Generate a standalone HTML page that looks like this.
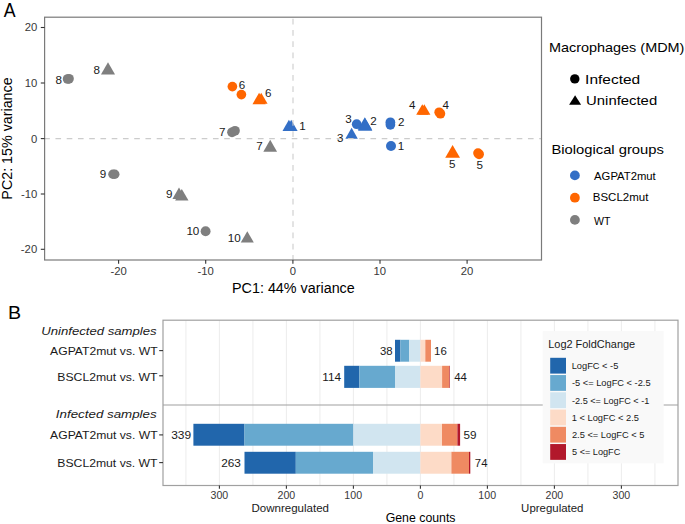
<!DOCTYPE html>
<html><head><meta charset="utf-8"><style>
html,body{margin:0;padding:0;background:#fff;}
svg{display:block;}
text{font-family:"Liberation Sans",sans-serif;}
</style></head><body>
<svg width="685" height="524" viewBox="0 0 685 524">
<rect x="0" y="0" width="685" height="524" fill="#fff"/>
<circle cx="67.6" cy="79" r="4.85" fill="#7f7f7f"/>
<circle cx="69.0" cy="78.8" r="4.85" fill="#7f7f7f"/>
<polygon points="108.00,62.25 100.96,74.45 115.04,74.45" fill="#7f7f7f"/>
<circle cx="232.0" cy="132.3" r="4.85" fill="#7f7f7f"/>
<circle cx="235.0" cy="130.8" r="4.85" fill="#7f7f7f"/>
<polygon points="270.20,139.85 263.33,151.75 277.07,151.75" fill="#7f7f7f"/>
<circle cx="112.9" cy="174.3" r="4.7" fill="#7f7f7f"/>
<circle cx="114.8" cy="174.3" r="4.7" fill="#7f7f7f"/>
<polygon points="179.00,187.55 172.42,198.95 185.58,198.95" fill="#7f7f7f"/>
<polygon points="181.80,188.95 175.10,200.55 188.50,200.55" fill="#7f7f7f"/>
<circle cx="205.6" cy="231.3" r="4.95" fill="#7f7f7f"/>
<polygon points="247.30,231.25 240.78,242.55 253.82,242.55" fill="#7f7f7f"/>
<circle cx="232.4" cy="86.6" r="4.85" fill="#ff6600"/>
<circle cx="241.4" cy="94.6" r="4.85" fill="#ff6600"/>
<polygon points="259.10,92.65 252.46,104.15 265.74,104.15" fill="#ff6600"/>
<polygon points="261.20,92.85 254.85,103.85 267.55,103.85" fill="#ff6600"/>
<polygon points="422.30,104.15 416.18,114.75 428.42,114.75" fill="#ff6600"/>
<polygon points="424.30,104.15 418.18,114.75 430.42,114.75" fill="#ff6600"/>
<circle cx="439.2" cy="112.3" r="4.85" fill="#ff6600"/>
<circle cx="440.4" cy="113.7" r="4.85" fill="#ff6600"/>
<polygon points="452.60,144.95 445.21,157.75 459.99,157.75" fill="#ff6600"/>
<circle cx="478.0" cy="153.1" r="4.85" fill="#ff6600"/>
<circle cx="479.1" cy="154.3" r="4.85" fill="#ff6600"/>
<polygon points="288.90,119.85 282.49,130.95 295.31,130.95" fill="#336fc6"/>
<polygon points="291.20,119.85 284.79,130.95 297.61,130.95" fill="#336fc6"/>
<circle cx="356.7" cy="124.2" r="4.85" fill="#336fc6"/>
<polygon points="364.80,117.25 357.58,129.75 372.02,129.75" fill="#336fc6"/>
<polygon points="365.20,118.25 358.04,130.65 372.36,130.65" fill="#336fc6"/>
<polygon points="351.60,127.85 345.36,138.65 357.84,138.65" fill="#336fc6"/>
<circle cx="390.4" cy="122.3" r="4.85" fill="#336fc6"/>
<circle cx="390.4" cy="124.8" r="4.85" fill="#336fc6"/>
<circle cx="391.0" cy="146.0" r="5.0" fill="#336fc6"/>
<line x1="44.6" y1="138.6" x2="541.5" y2="138.6" stroke="#cccccc" stroke-width="1.1" stroke-dasharray="5.625 5.625" stroke-dashoffset="0.4"/>
<line x1="293.0" y1="260.0" x2="293.0" y2="17.2" stroke="#cccccc" stroke-width="1.1" stroke-dasharray="5.625 5.625" stroke-dashoffset="0.65"/>
<text x="55.44" y="83.96" font-size="10.60" textLength="6.48" lengthAdjust="spacingAndGlyphs" fill="#1a1a1a" >8</text>
<text x="93.54" y="73.66" font-size="10.60" textLength="6.48" lengthAdjust="spacingAndGlyphs" fill="#1a1a1a" >8</text>
<text x="218.91" y="136.11" font-size="10.60" textLength="6.48" lengthAdjust="spacingAndGlyphs" fill="#1a1a1a" >7</text>
<text x="256.16" y="149.96" font-size="10.60" textLength="6.48" lengthAdjust="spacingAndGlyphs" fill="#1a1a1a" >7</text>
<text x="99.71" y="178.16" font-size="10.60" textLength="6.48" lengthAdjust="spacingAndGlyphs" fill="#1a1a1a" >9</text>
<text x="165.91" y="198.06" font-size="10.60" textLength="6.48" lengthAdjust="spacingAndGlyphs" fill="#1a1a1a" >9</text>
<text x="186.40" y="235.31" font-size="10.60" textLength="12.97" lengthAdjust="spacingAndGlyphs" fill="#1a1a1a" >10</text>
<text x="227.85" y="241.76" font-size="10.60" textLength="12.97" lengthAdjust="spacingAndGlyphs" fill="#1a1a1a" >10</text>
<text x="238.76" y="88.56" font-size="10.60" textLength="6.48" lengthAdjust="spacingAndGlyphs" fill="#1a1a1a" >6</text>
<text x="265.06" y="96.91" font-size="10.60" textLength="6.48" lengthAdjust="spacingAndGlyphs" fill="#1a1a1a" >6</text>
<text x="299.34" y="129.76" font-size="10.60" textLength="6.48" lengthAdjust="spacingAndGlyphs" fill="#1a1a1a" >1</text>
<text x="345.36" y="122.71" font-size="10.60" textLength="6.48" lengthAdjust="spacingAndGlyphs" fill="#1a1a1a" >3</text>
<text x="370.36" y="124.56" font-size="10.60" textLength="6.48" lengthAdjust="spacingAndGlyphs" fill="#1a1a1a" >2</text>
<text x="337.11" y="142.16" font-size="10.60" textLength="6.48" lengthAdjust="spacingAndGlyphs" fill="#1a1a1a" >3</text>
<text x="398.01" y="126.16" font-size="10.60" textLength="6.48" lengthAdjust="spacingAndGlyphs" fill="#1a1a1a" >2</text>
<text x="397.69" y="149.71" font-size="10.60" textLength="6.48" lengthAdjust="spacingAndGlyphs" fill="#1a1a1a" >1</text>
<text x="408.97" y="108.91" font-size="10.60" textLength="6.48" lengthAdjust="spacingAndGlyphs" fill="#1a1a1a" >4</text>
<text x="442.57" y="108.91" font-size="10.60" textLength="6.48" lengthAdjust="spacingAndGlyphs" fill="#1a1a1a" >4</text>
<text x="449.06" y="168.31" font-size="10.60" textLength="6.48" lengthAdjust="spacingAndGlyphs" fill="#1a1a1a" >5</text>
<text x="476.46" y="168.86" font-size="10.60" textLength="6.48" lengthAdjust="spacingAndGlyphs" fill="#1a1a1a" >5</text>
<rect x="44.6" y="17.2" width="496.9" height="242.8" fill="none" stroke="#7a7a7a" stroke-width="1.2"/>
<line x1="40.8" y1="27.5" x2="44.6" y2="27.5" stroke="#333333" stroke-width="1.1"/>
<line x1="40.8" y1="83.0" x2="44.6" y2="83.0" stroke="#333333" stroke-width="1.1"/>
<line x1="40.8" y1="138.6" x2="44.6" y2="138.6" stroke="#333333" stroke-width="1.1"/>
<line x1="40.8" y1="194.0" x2="44.6" y2="194.0" stroke="#333333" stroke-width="1.1"/>
<line x1="40.8" y1="249.3" x2="44.6" y2="249.3" stroke="#333333" stroke-width="1.1"/>
<line x1="118.6" y1="260.0" x2="118.6" y2="263.8" stroke="#333333" stroke-width="1.1"/>
<line x1="205.7" y1="260.0" x2="205.7" y2="263.8" stroke="#333333" stroke-width="1.1"/>
<line x1="292.9" y1="260.0" x2="292.9" y2="263.8" stroke="#333333" stroke-width="1.1"/>
<line x1="380.0" y1="260.0" x2="380.0" y2="263.8" stroke="#333333" stroke-width="1.1"/>
<line x1="467.1" y1="260.0" x2="467.1" y2="263.8" stroke="#333333" stroke-width="1.1"/>
<text x="24.65" y="31.30" font-size="11.30" textLength="12.57" lengthAdjust="spacingAndGlyphs" fill="#383838" >20</text>
<text x="24.75" y="87.00" font-size="11.30" textLength="12.57" lengthAdjust="spacingAndGlyphs" fill="#383838" >10</text>
<text x="31.02" y="142.50" font-size="11.30" textLength="6.28" lengthAdjust="spacingAndGlyphs" fill="#383838" >0</text>
<text x="20.97" y="197.90" font-size="11.30" textLength="16.33" lengthAdjust="spacingAndGlyphs" fill="#383838" >-10</text>
<text x="20.87" y="253.40" font-size="11.30" textLength="16.33" lengthAdjust="spacingAndGlyphs" fill="#383838" >-20</text>
<text x="110.38" y="275.10" font-size="11.30" textLength="16.33" lengthAdjust="spacingAndGlyphs" fill="#383838" >-20</text>
<text x="197.48" y="275.10" font-size="11.30" textLength="16.33" lengthAdjust="spacingAndGlyphs" fill="#383838" >-10</text>
<text x="289.74" y="275.10" font-size="11.30" textLength="6.28" lengthAdjust="spacingAndGlyphs" fill="#383838" >0</text>
<text x="373.50" y="275.10" font-size="11.30" textLength="12.57" lengthAdjust="spacingAndGlyphs" fill="#383838" >10</text>
<text x="460.74" y="275.10" font-size="11.30" textLength="12.57" lengthAdjust="spacingAndGlyphs" fill="#383838" >20</text>
<text x="232.05" y="293.30" font-size="14.64" textLength="122.70" lengthAdjust="spacingAndGlyphs" fill="#000" style="" >PC1: 44% variance</text>
<g transform="translate(12.20,198.70) rotate(-90)"><text x="-0.94" y="-0.10" font-size="15.36" textLength="122.29" lengthAdjust="spacingAndGlyphs" fill="#000" style="" >PC2: 15% variance</text></g>
<text x="3.80" y="16.90" font-size="19.57" textLength="11.84" lengthAdjust="spacingAndGlyphs" fill="#000" style="" >A</text>
<text x="548.95" y="51.80" font-size="12.90" textLength="135.44" lengthAdjust="spacingAndGlyphs" fill="#000" style="" >Macrophages (MDM)</text>
<circle cx="574.8" cy="78.9" r="4.7" fill="#000"/>
<text x="585.11" y="83.70" font-size="13.33" textLength="55.05" lengthAdjust="spacingAndGlyphs" fill="#000" style="" >Infected</text>
<polygon points="575.1,95.2 569.1,104.7 581.1,104.7" fill="#000"/>
<text x="586.08" y="104.50" font-size="13.48" textLength="71.09" lengthAdjust="spacingAndGlyphs" fill="#000" style="" >Uninfected</text>
<text x="551.42" y="153.70" font-size="13.04" textLength="112.51" lengthAdjust="spacingAndGlyphs" fill="#000" style="" >Biological groups</text>
<circle cx="574.9" cy="175.4" r="4.9" fill="#336fc6"/>
<circle cx="574.9" cy="197.7" r="4.9" fill="#ff6600"/>
<circle cx="574.9" cy="219.9" r="4.9" fill="#7f7f7f"/>
<text x="594.10" y="179.50" font-size="11.16" textLength="61.61" lengthAdjust="spacingAndGlyphs" fill="#000" style="" >AGPAT2mut</text>
<text x="592.78" y="201.40" font-size="11.16" textLength="55.58" lengthAdjust="spacingAndGlyphs" fill="#000" style="" >BSCL2mut</text>
<text x="594.05" y="224.50" font-size="11.45" textLength="16.46" lengthAdjust="spacingAndGlyphs" fill="#000" style="" >WT</text>
<line x1="185.90" y1="320.2" x2="185.90" y2="485.5" stroke="#eeeeee" stroke-width="1.1"/>
<line x1="219.40" y1="320.2" x2="219.40" y2="485.5" stroke="#eeeeee" stroke-width="1.1"/>
<line x1="252.90" y1="320.2" x2="252.90" y2="485.5" stroke="#eeeeee" stroke-width="1.1"/>
<line x1="286.40" y1="320.2" x2="286.40" y2="485.5" stroke="#eeeeee" stroke-width="1.1"/>
<line x1="319.90" y1="320.2" x2="319.90" y2="485.5" stroke="#eeeeee" stroke-width="1.1"/>
<line x1="353.40" y1="320.2" x2="353.40" y2="485.5" stroke="#eeeeee" stroke-width="1.1"/>
<line x1="386.90" y1="320.2" x2="386.90" y2="485.5" stroke="#eeeeee" stroke-width="1.1"/>
<line x1="420.40" y1="320.2" x2="420.40" y2="485.5" stroke="#eeeeee" stroke-width="1.1"/>
<line x1="453.90" y1="320.2" x2="453.90" y2="485.5" stroke="#eeeeee" stroke-width="1.1"/>
<line x1="487.40" y1="320.2" x2="487.40" y2="485.5" stroke="#eeeeee" stroke-width="1.1"/>
<line x1="520.90" y1="320.2" x2="520.90" y2="485.5" stroke="#eeeeee" stroke-width="1.1"/>
<line x1="554.40" y1="320.2" x2="554.40" y2="485.5" stroke="#eeeeee" stroke-width="1.1"/>
<line x1="587.90" y1="320.2" x2="587.90" y2="485.5" stroke="#eeeeee" stroke-width="1.1"/>
<line x1="621.40" y1="320.2" x2="621.40" y2="485.5" stroke="#eeeeee" stroke-width="1.1"/>
<line x1="654.90" y1="320.2" x2="654.90" y2="485.5" stroke="#eeeeee" stroke-width="1.1"/>
<rect x="395.00" y="339.8" width="5.40" height="21.90" fill="#2166ac"/>
<rect x="400.40" y="339.8" width="8.90" height="21.90" fill="#67a9cf"/>
<rect x="409.30" y="339.8" width="11.10" height="21.90" fill="#d1e5f0"/>
<rect x="420.40" y="339.8" width="4.90" height="21.90" fill="#fddbc7"/>
<rect x="425.30" y="339.8" width="5.70" height="21.90" fill="#ef8a62"/>
<rect x="344.20" y="365.8" width="15.20" height="22.10" fill="#2166ac"/>
<rect x="359.40" y="365.8" width="35.60" height="22.10" fill="#67a9cf"/>
<rect x="395.00" y="365.8" width="25.40" height="22.10" fill="#d1e5f0"/>
<rect x="420.40" y="365.8" width="21.70" height="22.10" fill="#fddbc7"/>
<rect x="442.10" y="365.8" width="7.20" height="22.10" fill="#ef8a62"/>
<rect x="449.30" y="365.8" width="0.60" height="22.10" fill="#b2182b"/>
<rect x="193.40" y="423.8" width="51.10" height="21.90" fill="#2166ac"/>
<rect x="244.50" y="423.8" width="108.90" height="21.90" fill="#67a9cf"/>
<rect x="353.40" y="423.8" width="67.00" height="21.90" fill="#d1e5f0"/>
<rect x="420.40" y="423.8" width="21.60" height="21.90" fill="#fddbc7"/>
<rect x="442.00" y="423.8" width="15.40" height="21.90" fill="#ef8a62"/>
<rect x="457.40" y="423.8" width="2.70" height="21.90" fill="#b2182b"/>
<rect x="244.50" y="451.8" width="51.30" height="21.90" fill="#2166ac"/>
<rect x="295.80" y="451.8" width="77.20" height="21.90" fill="#67a9cf"/>
<rect x="373.00" y="451.8" width="47.40" height="21.90" fill="#d1e5f0"/>
<rect x="420.40" y="451.8" width="31.00" height="21.90" fill="#fddbc7"/>
<rect x="451.40" y="451.8" width="17.60" height="21.90" fill="#ef8a62"/>
<rect x="469.00" y="451.8" width="1.30" height="21.90" fill="#b2182b"/>
<text x="379.95" y="354.50" font-size="10.60" textLength="12.64" lengthAdjust="spacingAndGlyphs" fill="#1a1a1a" style="" >38</text>
<text x="434.04" y="354.50" font-size="10.60" textLength="12.74" lengthAdjust="spacingAndGlyphs" fill="#1a1a1a" style="" >16</text>
<text x="322.21" y="380.80" font-size="10.60" textLength="18.83" lengthAdjust="spacingAndGlyphs" fill="#1a1a1a" style="" >114</text>
<text x="454.27" y="380.80" font-size="10.60" textLength="12.70" lengthAdjust="spacingAndGlyphs" fill="#1a1a1a" style="" >44</text>
<text x="171.22" y="438.70" font-size="10.60" textLength="19.96" lengthAdjust="spacingAndGlyphs" fill="#1a1a1a" style="" >339</text>
<text x="463.53" y="438.70" font-size="10.60" textLength="13.02" lengthAdjust="spacingAndGlyphs" fill="#1a1a1a" style="" >59</text>
<text x="221.21" y="466.80" font-size="10.60" textLength="19.70" lengthAdjust="spacingAndGlyphs" fill="#1a1a1a" style="" >263</text>
<text x="474.83" y="466.80" font-size="10.60" textLength="12.64" lengthAdjust="spacingAndGlyphs" fill="#1a1a1a" style="" >74</text>
<line x1="163" y1="405.0" x2="678.0" y2="405.0" stroke="#a0a0a0" stroke-width="1.2"/>
<rect x="163.0" y="320.2" width="515.0" height="165.3" fill="none" stroke="#a0a0a0" stroke-width="1.2"/>
<line x1="159.2" y1="350.6" x2="163" y2="350.6" stroke="#333" stroke-width="1.1"/>
<line x1="159.2" y1="375.8" x2="163" y2="375.8" stroke="#333" stroke-width="1.1"/>
<line x1="159.2" y1="434.9" x2="163" y2="434.9" stroke="#333" stroke-width="1.1"/>
<line x1="159.2" y1="462.6" x2="163" y2="462.6" stroke="#333" stroke-width="1.1"/>
<text x="41.21" y="334.50" font-size="11.45" textLength="115.48" lengthAdjust="spacingAndGlyphs" fill="#1a1a1a" style="font-style:italic;" >Uninfected samples</text>
<text x="50.10" y="354.60" font-size="11.45" textLength="107.48" lengthAdjust="spacingAndGlyphs" fill="#1a1a1a" style="" >AGPAT2mut vs. WT</text>
<text x="57.33" y="380.70" font-size="11.45" textLength="100.20" lengthAdjust="spacingAndGlyphs" fill="#1a1a1a" style="" >BSCL2mut vs. WT</text>
<text x="55.87" y="417.90" font-size="11.30" textLength="100.80" lengthAdjust="spacingAndGlyphs" fill="#1a1a1a" style="font-style:italic;" >Infected samples</text>
<text x="50.10" y="438.50" font-size="11.01" textLength="107.48" lengthAdjust="spacingAndGlyphs" fill="#1a1a1a" style="" >AGPAT2mut vs. WT</text>
<text x="57.33" y="466.60" font-size="11.45" textLength="100.20" lengthAdjust="spacingAndGlyphs" fill="#1a1a1a" style="" >BSCL2mut vs. WT</text>
<text x="8.13" y="318.90" font-size="18.70" textLength="13.09" lengthAdjust="spacingAndGlyphs" fill="#000" style="" >B</text>
<line x1="219.40" y1="485.5" x2="219.40" y2="488.8" stroke="#333" stroke-width="1.1"/>
<text x="210.55" y="498.56" font-size="10.60" textLength="17.69" lengthAdjust="spacingAndGlyphs" fill="#383838" >300</text>
<line x1="286.40" y1="485.5" x2="286.40" y2="488.8" stroke="#333" stroke-width="1.1"/>
<text x="277.50" y="498.56" font-size="10.60" textLength="17.69" lengthAdjust="spacingAndGlyphs" fill="#383838" >200</text>
<line x1="353.40" y1="485.5" x2="353.40" y2="488.8" stroke="#333" stroke-width="1.1"/>
<text x="344.36" y="498.56" font-size="10.60" textLength="17.69" lengthAdjust="spacingAndGlyphs" fill="#383838" >100</text>
<line x1="420.40" y1="485.5" x2="420.40" y2="488.8" stroke="#333" stroke-width="1.1"/>
<text x="417.43" y="498.56" font-size="10.60" textLength="5.90" lengthAdjust="spacingAndGlyphs" fill="#383838" >0</text>
<line x1="487.40" y1="485.5" x2="487.40" y2="488.8" stroke="#333" stroke-width="1.1"/>
<text x="478.36" y="498.56" font-size="10.60" textLength="17.69" lengthAdjust="spacingAndGlyphs" fill="#383838" >100</text>
<line x1="554.40" y1="485.5" x2="554.40" y2="488.8" stroke="#333" stroke-width="1.1"/>
<text x="545.50" y="498.56" font-size="10.60" textLength="17.69" lengthAdjust="spacingAndGlyphs" fill="#383838" >200</text>
<line x1="621.40" y1="485.5" x2="621.40" y2="488.8" stroke="#333" stroke-width="1.1"/>
<text x="612.55" y="498.56" font-size="10.60" textLength="17.69" lengthAdjust="spacingAndGlyphs" fill="#383838" >300</text>
<text x="251.48" y="511.60" font-size="10.58" textLength="77.49" lengthAdjust="spacingAndGlyphs" fill="#1a1a1a" style="" >Downregulated</text>
<text x="521.14" y="511.70" font-size="10.14" textLength="62.34" lengthAdjust="spacingAndGlyphs" fill="#1a1a1a" style="" >Upregulated</text>
<text x="385.68" y="521.80" font-size="12.17" textLength="69.85" lengthAdjust="spacingAndGlyphs" fill="#000" style="" >Gene counts</text>
<rect x="542.7" y="331.1" width="121" height="132.3" fill="#f9f9f9"/>
<text x="548.22" y="347.90" font-size="10.29" textLength="86.98" lengthAdjust="spacingAndGlyphs" fill="#1a1a1a" style="" >Log2 FoldChange</text>
<rect x="550.2" y="357.80" width="15.8" height="15.8" fill="#2166ac"/>
<text x="571.66" y="369.10" font-size="9.28" textLength="46.72" lengthAdjust="spacingAndGlyphs" fill="#1a1a1a" style="" >LogFC &lt; -5</text>
<rect x="550.2" y="375.05" width="15.8" height="15.8" fill="#67a9cf"/>
<text x="571.98" y="386.30" font-size="9.28" textLength="78.61" lengthAdjust="spacingAndGlyphs" fill="#1a1a1a" style="" >-5 &lt;= LogFC &lt; -2.5</text>
<rect x="550.2" y="392.30" width="15.8" height="15.8" fill="#d1e5f0"/>
<text x="571.99" y="403.50" font-size="9.28" textLength="77.34" lengthAdjust="spacingAndGlyphs" fill="#1a1a1a" style="" >-2.5 &lt;= LogFC &lt; -1</text>
<rect x="550.2" y="409.55" width="15.8" height="15.8" fill="#fddbc7"/>
<text x="571.70" y="420.70" font-size="9.28" textLength="67.29" lengthAdjust="spacingAndGlyphs" fill="#1a1a1a" style="" >1 &lt; LogFC &lt; 2.5</text>
<rect x="550.2" y="426.80" width="15.8" height="15.8" fill="#ef8a62"/>
<text x="571.94" y="437.90" font-size="9.28" textLength="72.55" lengthAdjust="spacingAndGlyphs" fill="#1a1a1a" style="" >2.5 &lt;= LogFC &lt; 5</text>
<rect x="550.2" y="444.05" width="15.8" height="15.8" fill="#b2182b"/>
<text x="572.03" y="455.10" font-size="9.28" textLength="48.30" lengthAdjust="spacingAndGlyphs" fill="#1a1a1a" style="" >5 &lt;= LogFC</text>
</svg>
</body></html>
